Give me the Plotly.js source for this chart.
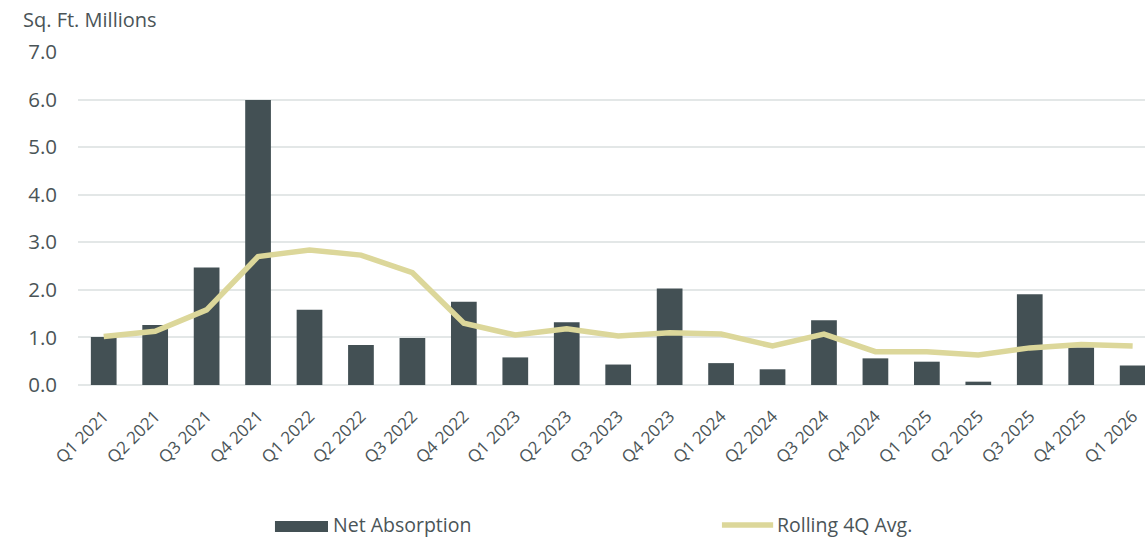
<!DOCTYPE html>
<html>
<head>
<meta charset="utf-8">
<script src="https://cdn.plot.ly/plotly-3.0.1.min.js"></script>
<style>
  html, body { margin: 0; padding: 0; background: #ffffff; overflow: hidden; }
  #chart { width: 1145px; height: 539px; }
</style>
</head>
<body>
<div id="chart"></div>
<script>
const quarters = ["Q1 2021","Q2 2021","Q3 2021","Q4 2021","Q1 2022","Q2 2022","Q3 2022","Q4 2022",
  "Q1 2023","Q2 2023","Q3 2023","Q4 2023","Q1 2024","Q2 2024","Q3 2024","Q4 2024",
  "Q1 2025","Q2 2025","Q3 2025","Q4 2025","Q1 2026"];
const netAbsorption = [1.01,1.26,2.47,5.99,1.58,0.84,0.99,1.75,0.58,1.32,0.43,2.03,0.46,0.33,1.36,0.56,0.49,0.07,1.91,0.79,0.41];
const rolling4Q = [1.02,1.13,1.58,2.70,2.84,2.73,2.36,1.30,1.05,1.18,1.03,1.10,1.07,0.82,1.07,0.70,0.70,0.63,0.78,0.85,0.82];
const yTicks = [0,1,2,3,4,5,6,7];
const seriesNames = ["Net Absorption", "Rolling 4Q Avg."];

const FONT = "'Open Sans', sans-serif";
const TXT = "#4a5457";
const BAR_COLOR = "#435054";
const LINE_COLOR = "#dcd79a";

const traces = [
  {
    type: "bar", name: seriesNames[0], x: quarters, y: netAbsorption,
    marker: { color: BAR_COLOR }, width: 0.5
  },
  {
    type: "scatter", mode: "lines", name: seriesNames[1], x: quarters, y: rolling4Q,
    line: { color: LINE_COLOR, width: 5.5 }
  }
];

const LEG_Y = -0.4204;

const layout = {
  width: 1145, height: 539,
  margin: { l: 78, r: 0, t: 52, b: 154 },
  paper_bgcolor: "#ffffff", plot_bgcolor: "#ffffff",
  font: { family: FONT, color: TXT, size: 17 },
  showlegend: false,
  xaxis: {
    type: "category", range: [-0.5, 20.24], tickangle: -45,
    showgrid: false, zeroline: false, showline: false, ticks: "",
    ticklabelstandoff: 17,
    tickfont: { family: FONT, size: 17, color: TXT }
  },
  yaxis: {
    range: [0, 7], tickvals: yTicks, tickformat: ".1f",
    showgrid: true, gridcolor: "#e3e7e7", gridwidth: 2,
    zeroline: true, zerolinecolor: "#e3e7e7", zerolinewidth: 2,
    ticks: "", ticklabelstandoff: 20,
    tickfont: { family: FONT, size: 20.5, color: TXT }
  },
  shapes: [
    { type: "rect", xref: "paper", yref: "paper", x0: 0.1846, x1: 0.2343, y0: -0.4414, y1: -0.4084,
      fillcolor: BAR_COLOR, line: { width: 0 } },
    { type: "line", xref: "paper", yref: "paper", x0: 0.6035, x1: 0.6515, y0: LEG_Y, y1: LEG_Y,
      line: { color: LINE_COLOR, width: 5.5 } }
  ],
  annotations: [
    { text: "Sq. Ft. Millions", xref: "paper", yref: "paper", x: -0.0535, y: 1.098,
      xanchor: "left", yanchor: "middle", showarrow: false,
      font: { family: FONT, size: 20, color: TXT } },
    { text: seriesNames[0], xref: "paper", yref: "paper", x: 0.2385, y: LEG_Y,
      xanchor: "left", yanchor: "middle", showarrow: false, borderpad: 0,
      font: { family: FONT, size: 19.5, color: TXT } },
    { text: seriesNames[1], xref: "paper", yref: "paper", x: 0.6545, y: LEG_Y,
      xanchor: "left", yanchor: "middle", showarrow: false, borderpad: 0,
      font: { family: FONT, size: 19.5, color: TXT } }
  ]
};

Plotly.newPlot("chart", traces, layout, { displayModeBar: false, staticPlot: true });
</script>
</body>
</html>
